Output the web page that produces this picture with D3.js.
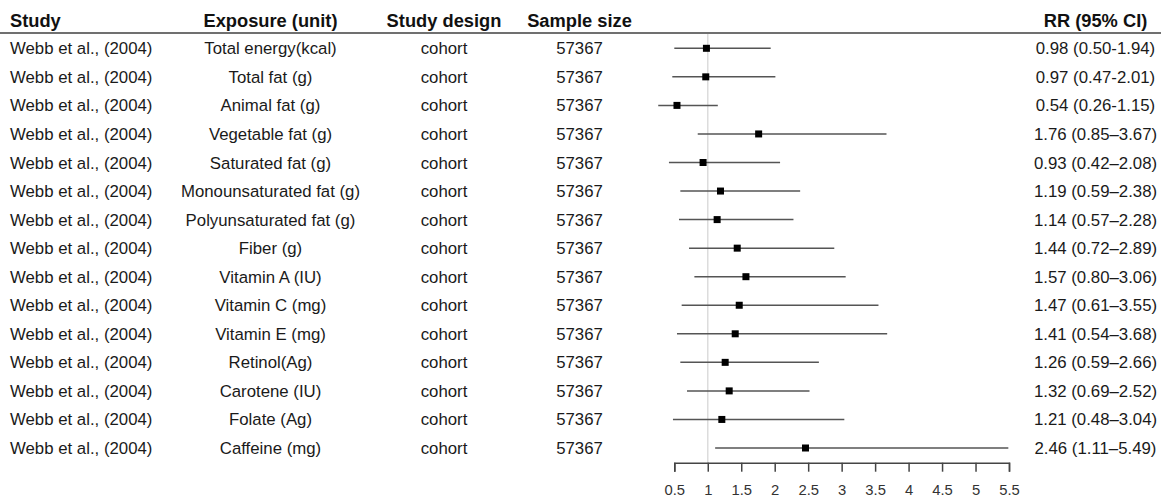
<!DOCTYPE html>
<html>
<head>
<meta charset="utf-8">
<script src="https://cdn.jsdelivr.net/npm/d3@7"></script>
<style>
  body { margin: 0; background: #fff; }
  svg { display: block; font-family: "Liberation Sans", Arial, sans-serif; }
  .cell { font-size: 16.8px; fill: #1a1a1a; }
  .head { font-size: 18.3px; font-weight: bold; fill: #111; }
  .xAxis text { font-size: 14.8px; fill: #333; font-family: "Liberation Sans", Arial, sans-serif; }
</style>
</head>
<body>
<div id="chart"></div>
<script>
// table columns, one entry per row (top to bottom)
const studies = Array(15).fill("Webb et al., (2004)");
const exposures = ["Total energy(kcal)", "Total fat (g)", "Animal fat (g)", "Vegetable fat (g)",
  "Saturated fat (g)", "Monounsaturated fat (g)", "Polyunsaturated fat (g)", "Fiber (g)",
  "Vitamin A (IU)", "Vitamin C (mg)", "Vitamin E (mg)", "Retinol(Ag)", "Carotene (IU)",
  "Folate (Ag)", "Caffeine (mg)"];
const designs = Array(15).fill("cohort");
const sampleSizes = Array(15).fill("57367");

// relative risks and 95% CI
const rr    = [0.98, 0.97, 0.54, 1.76, 0.93, 1.19, 1.14, 1.44, 1.57, 1.47, 1.41, 1.26, 1.32, 1.21, 2.46];
const lower = [0.50, 0.47, 0.26, 0.85, 0.42, 0.59, 0.57, 0.72, 0.80, 0.61, 0.54, 0.59, 0.69, 0.48, 1.11];
const upper = [1.94, 2.01, 1.15, 3.67, 2.08, 2.38, 2.28, 2.89, 3.06, 3.55, 3.68, 2.66, 2.52, 3.04, 5.49];
const rrLabels = ["0.98 (0.50-1.94)", "0.97 (0.47-2.01)", "0.54 (0.26-1.15)", "1.76 (0.85–3.67)",
  "0.93 (0.42–2.08)", "1.19 (0.59–2.38)", "1.14 (0.57–2.28)", "1.44 (0.72–2.89)",
  "1.57 (0.80–3.06)", "1.47 (0.61–3.55)", "1.41 (0.54–3.68)", "1.26 (0.59–2.66)",
  "1.32 (0.69–2.52)", "1.21 (0.48–3.04)", "2.46 (1.11–5.49)"];

const headers = ["Study", "Exposure (unit)", "Study design", "Sample size", "RR (95% CI)"];
const xTicks = [0.5, 1, 1.5, 2, 2.5, 3, 3.5, 4, 4.5, 5, 5.5];
const refValue = 1;

const width = 1161, height = 497;
const headerY = 26.5, ruleY = 33, axisY = 462.7;

const svg = d3.select("#chart").append("svg")
  .attr("width", width)
  .attr("height", height);

// scales
const xScale = d3.scaleLinear()
  .domain([0.5, 5.5])
  .range([674.3, 1009]);

const yScale = d3.scalePoint()
  .domain(d3.range(rr.length))
  .range([48.3, 448]);

// column layout: [x, anchor]
const cols = [
  { x: 10, anchor: "start", values: studies },
  { x: 270.5, anchor: "middle", values: exposures },
  { x: 444, anchor: "middle", values: designs },
  { x: 579.5, anchor: "middle", values: sampleSizes },
  { x: 1095.5, anchor: "middle", values: rrLabels }
];

// header
svg.selectAll("text.head")
  .data(headers)
  .join("text")
  .attr("class", "head")
  .attr("x", (d, i) => cols[i].x)
  .attr("y", headerY)
  .attr("text-anchor", (d, i) => cols[i].anchor)
  .text(d => d);

svg.append("line")
  .attr("x1", 0).attr("x2", width)
  .attr("y1", ruleY).attr("y2", ruleY)
  .attr("stroke", "#707070")
  .attr("stroke-width", 2);

// reference line at RR = 1
svg.append("line")
  .attr("x1", xScale(refValue)).attr("x2", xScale(refValue))
  .attr("y1", ruleY + 1).attr("y2", axisY)
  .attr("stroke", "#dcdcdc")
  .attr("stroke-width", 1.5);

// table cells
cols.forEach((c, ci) => {
  svg.append("g")
    .selectAll("text")
    .data(c.values)
    .join("text")
    .attr("class", "cell")
    .attr("x", c.x)
    .attr("y", (d, i) => yScale(i))
    .attr("dy", "0.36em")
    .attr("text-anchor", c.anchor)
    .text(d => d);
});

// CI lines
svg.append("g")
  .selectAll("line")
  .data(rr.map((d, i) => i))
  .join("line")
  .attr("x1", i => xScale(lower[i]))
  .attr("x2", i => xScale(upper[i]))
  .attr("y1", i => yScale(i))
  .attr("y2", i => yScale(i))
  .attr("stroke", "#555")
  .attr("stroke-width", 1.5);

// point estimates
const sq = 7;
svg.append("g")
  .selectAll("rect")
  .data(rr)
  .join("rect")
  .attr("x", d => xScale(d) - sq / 2)
  .attr("y", (d, i) => yScale(i) - sq / 2)
  .attr("width", sq)
  .attr("height", sq)
  .attr("fill", "#000");

// x axis
const xAxis = d3.axisBottom(xScale)
  .tickValues(xTicks)
  .tickFormat(d3.format("~g"))
  .tickSize(9)
  .tickSizeOuter(9)
  .tickPadding(12.5);

const xAxisGroup = svg.append("g")
  .attr("class", "xAxis")
  .attr("transform", `translate(0, ${axisY})`)
  .call(xAxis);

xAxisGroup.selectAll("path, line")
  .attr("stroke", "#444")
  .attr("stroke-width", 1.5);
xAxisGroup.attr("font-size", null).attr("font-family", null);
</script>
</body>
</html>
